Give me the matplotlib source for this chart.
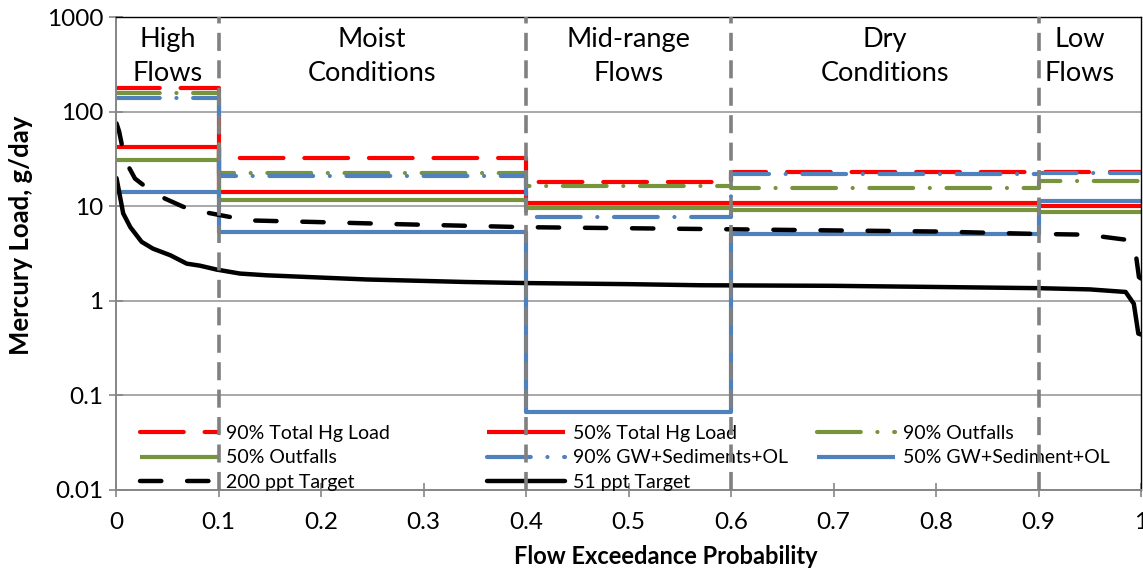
import matplotlib.pyplot as plt
from matplotlib.legend import Legend

plt.rcParams['font.family'] = ['Lato', 'DejaVu Sans']

# Flow regime boundaries (exceedance probability) and labels
edges = [0, 0.1, 0.4, 0.6, 0.9, 1.0]
regimes = ['High\nFlows', 'Moist\nConditions', 'Mid-range\nFlows', 'Dry\nConditions', 'Low\nFlows']
regime_x = [0.05, 0.25, 0.5, 0.75, 0.94]

# Mercury load per flow regime, g/day
total_90 = [177, 32, 18, 23, 23]
total_50 = [42.5, 14.3, 10.7, 10.7, 10.0]
outfalls_90 = [158, 22.7, 16.3, 15.6, 18.5]
outfalls_50 = [30.7, 11.6, 9.6, 9.2, 8.7]
gw_90 = [138, 20.9, 7.6, 21.8, 22.5]
gw_50 = [14.0, 5.4, 0.066, 5.1, 11.3]

# Load duration curves for the concentration targets
x_200 = [0.0005, 0.003, 0.0088, 0.0185, 0.033, 0.048, 0.069, 0.085, 0.111, 0.124,
         0.196, 0.277, 0.4, 0.6, 0.8, 0.895, 0.947, 0.989, 0.994, 0.998, 1.0]
y_200 = [75, 62, 30.7, 19.6, 14.8, 12.0, 9.5, 8.7, 7.7, 7.1,
         6.8, 6.45, 6.0, 5.7, 5.4, 5.1, 5.0, 4.37, 3.7, 1.78, 1.72]
x_51 = [0.0005, 0.004, 0.007, 0.014, 0.025, 0.036, 0.053, 0.069, 0.082, 0.098, 0.121,
        0.147, 0.2, 0.245, 0.342, 0.4, 0.5, 0.57, 0.7, 0.8, 0.9, 0.95, 0.985, 0.993,
        0.9974, 1.0]
y_51 = [19.8, 12.5, 8.4, 6.0, 4.2, 3.56, 3.03, 2.47, 2.35, 2.14, 1.94,
        1.86, 1.76, 1.68, 1.58, 1.54, 1.50, 1.46, 1.44, 1.40, 1.36, 1.32, 1.24, 0.93,
        0.45, 0.44]

red = '#FF0000'
green = '#77933C'
blue = '#4F81BD'
lw = 3.0
long_dash = (10.5, 5.0)
dash_dot = (10.5, 4.0, 0.01, 4.0)

fig = plt.figure(figsize=(11.43, 5.71), dpi=100)
ax = fig.add_axes([116 / 1143, 1 - 490 / 571, 1025 / 1143, 473 / 571])


def step(vals, **kw):
    ys = list(vals) + [vals[-1]]
    line, = ax.step(edges, ys, where='post', lw=lw, solid_capstyle='butt',
                    dash_capstyle='round', **kw)
    return line


h_total_90 = step(total_90, color=red, dashes=long_dash, label='90% Total Hg Load')
h_total_50 = step(total_50, color=red, label='50% Total Hg Load')
h_out_90 = step(outfalls_90, color=green, dashes=dash_dot, label='90% Outfalls')
h_out_50 = step(outfalls_50, color=green, label='50% Outfalls')
h_gw_90 = step(gw_90, color=blue, dashes=dash_dot, label='90% GW+Sediments+OL')
h_gw_50 = step(gw_50, color=blue, label='50% GW+Sediment+OL')
h_200, = ax.plot(x_200, y_200, color='black', lw=3.2, dashes=(4.8, 5.8),
                 dash_capstyle='round', label='200 ppt Target')
h_51, = ax.plot(x_51, y_51, color='black', lw=3.2, solid_capstyle='round',
                label='51 ppt Target')

# regime separators
for b in edges[1:-1]:
    ax.axvline(b, color='#808080', lw=2.6, dashes=(5, 2.6), zorder=6)

for xc, name in zip(regime_x, regimes):
    ax.text(xc, 0.978, name, transform=ax.get_xaxis_transform(),
            ha='center', va='top', fontsize=19.5, linespacing=1.42)

ax.set_yscale('log')
ax.set_ylim(0.01, 1000)
ax.set_xlim(0, 1)
ax.set_xticks([i / 10 for i in range(11)])
ax.set_xticklabels(['0', '0.1', '0.2', '0.3', '0.4', '0.5', '0.6', '0.7', '0.8', '0.9', '1'])
ax.set_yticks([0.01, 0.1, 1, 10, 100, 1000])
ax.set_yticklabels(['0.01', '0.1', '1', '10', '100', '1000'])
ax.minorticks_off()
ax.tick_params(direction='inout', length=10, width=1.2, color='#868686',
               labelsize=17.5)
ax.tick_params(axis='x', pad=11)
ax.tick_params(axis='y', pad=4)
ax.grid(axis='y', color='#9a9a9a', lw=1.2)
for s in ('left', 'bottom'):
    ax.spines[s].set_color('#868686')
    ax.spines[s].set_linewidth(1.4)
for s in ('top', 'right'):
    ax.spines[s].set_color('black')
    ax.spines[s].set_linewidth(1.0)

fig.text(666 / 1143, 1 - 557 / 571, 'Flow Exceedance Probability', ha='center', va='center',
         fontsize=17, fontweight='bold')
fig.text(21 / 1143, 1 - 235 / 571, 'Mercury Load, g/day', ha='center', va='center',
         rotation=90, fontsize=18.5, fontweight='bold')

# legend laid out in three fixed-width columns
columns = [
    ([h_total_90, h_out_50, h_200], 140),
    ([h_total_50, h_gw_90, h_51], 487),
    ([h_out_90, h_gw_50], 817),
]
for handles, x0 in columns:
    leg = Legend(ax, handles, [h.get_label() for h in handles], loc='upper left',
                 bbox_to_anchor=(x0 / 1143, 1 - 425 / 571), bbox_transform=fig.transFigure,
                 frameon=False, fontsize=14, handlelength=4.0, handletextpad=0.4,
                 borderpad=0, borderaxespad=0, labelspacing=0.38)
    ax.add_artist(leg)

fig.savefig('out.png', dpi=100)
